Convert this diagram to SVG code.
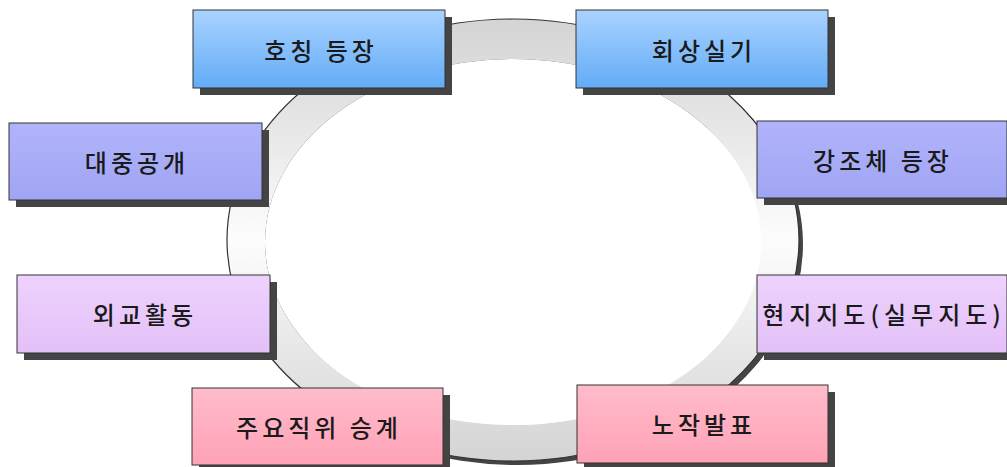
<svg xmlns="http://www.w3.org/2000/svg" width="1007" height="467" viewBox="0 0 1007 467">
<defs>
<linearGradient id="ringG" x1="0" y1="0" x2="0" y2="1">
<stop offset="0" stop-color="#d4d4d4"/>
<stop offset="0.3" stop-color="#ebebeb"/>
<stop offset="0.5" stop-color="#fdfdfd"/>
<stop offset="0.7" stop-color="#ebebeb"/>
<stop offset="1" stop-color="#d4d4d4"/>
</linearGradient>
<linearGradient id="blue" x1="0" y1="0" x2="0" y2="1">
<stop offset="0" stop-color="#a9d3ff"/>
<stop offset="1" stop-color="#63acf6"/>
</linearGradient>
<linearGradient id="peri" x1="0" y1="0" x2="0" y2="1">
<stop offset="0" stop-color="#b1b4fb"/>
<stop offset="1" stop-color="#a0a5f3"/>
</linearGradient>
<linearGradient id="lav" x1="0" y1="0" x2="0" y2="1">
<stop offset="0" stop-color="#eed2fc"/>
<stop offset="1" stop-color="#e3c0f8"/>
</linearGradient>
<linearGradient id="pink" x1="0" y1="0" x2="0" y2="1">
<stop offset="0" stop-color="#ffbccb"/>
<stop offset="1" stop-color="#ffa2b6"/>
</linearGradient>
</defs>
<style>
.sh{fill:#444444}
.bx{stroke:#333333;stroke-width:1}
.t{font-family:"Noto Sans CJK KR","Noto Sans CJK SC",sans-serif;font-size:24px;font-weight:500;fill:#1a1a1a;text-anchor:middle;dominant-baseline:central;letter-spacing:4px}
</style>
<rect width="1007" height="467" fill="#ffffff"/>
<g id="ring">
<path d="M231,244 a286,221 0 1,0 572,0 a286,221 0 1,0 -572,0 Z M269,246 a248,183 0 1,1 496,0 a248,183 0 1,1 -496,0 Z" fill="#444444" fill-rule="evenodd"/>
<path d="M227,240 a286,221 0 1,0 572,0 a286,221 0 1,0 -572,0 Z M265,242 a248,183 0 1,1 496,0 a248,183 0 1,1 -496,0 Z" fill="url(#ringG)" fill-rule="evenodd"/>
<ellipse cx="513" cy="240" rx="286" ry="221" fill="none" stroke="#333333" stroke-width="1.2"/>
<ellipse cx="513" cy="242" rx="248" ry="183" fill="#ffffff"/>
</g>
<g id="n1"><rect class="sh" x="200" y="17" width="252" height="78"/><rect class="bx" x="193" y="10" width="252" height="78" fill="url(#blue)"/><text class="t" x="321" y="49">호칭 등장</text></g>
<g id="n2"><rect class="sh" x="583" y="17" width="252" height="78"/><rect class="bx" x="576" y="10" width="252" height="78" fill="url(#blue)"/><text class="t" x="704" y="49">회상실기</text></g>
<g id="n3"><rect class="sh" x="16" y="130" width="253" height="77"/><rect class="bx" x="9" y="123" width="253" height="77" fill="url(#peri)"/><text class="t" x="137" y="161">대중공개</text></g>
<g id="n4"><rect class="sh" x="764" y="128" width="250" height="77"/><rect class="bx" x="757" y="121" width="250" height="77" fill="url(#peri)"/><text class="t" x="883" y="159">강조체 등장</text></g>
<g id="n5"><rect class="sh" x="24" y="282" width="253" height="78"/><rect class="bx" x="17" y="275" width="253" height="78" fill="url(#lav)"/><text class="t" x="145" y="313">외교활동</text></g>
<g id="n6"><rect class="sh" x="764" y="282" width="250" height="78"/><rect class="bx" x="757" y="275" width="250" height="78" fill="url(#lav)"/><text class="t" x="884" y="313" style="letter-spacing:5px">현지지도(실무지도)</text></g>
<g id="n7"><rect class="sh" x="199" y="395" width="251" height="77"/><rect class="bx" x="192" y="388" width="251" height="77" fill="url(#pink)"/><text class="t" x="319" y="426">주요직위 승계</text></g>
<g id="n8"><rect class="sh" x="584" y="392" width="251" height="78"/><rect class="bx" x="577" y="385" width="251" height="78" fill="url(#pink)"/><text class="t" x="704" y="423">노작발표</text></g>
<g id="connectors"></g>
</svg>
